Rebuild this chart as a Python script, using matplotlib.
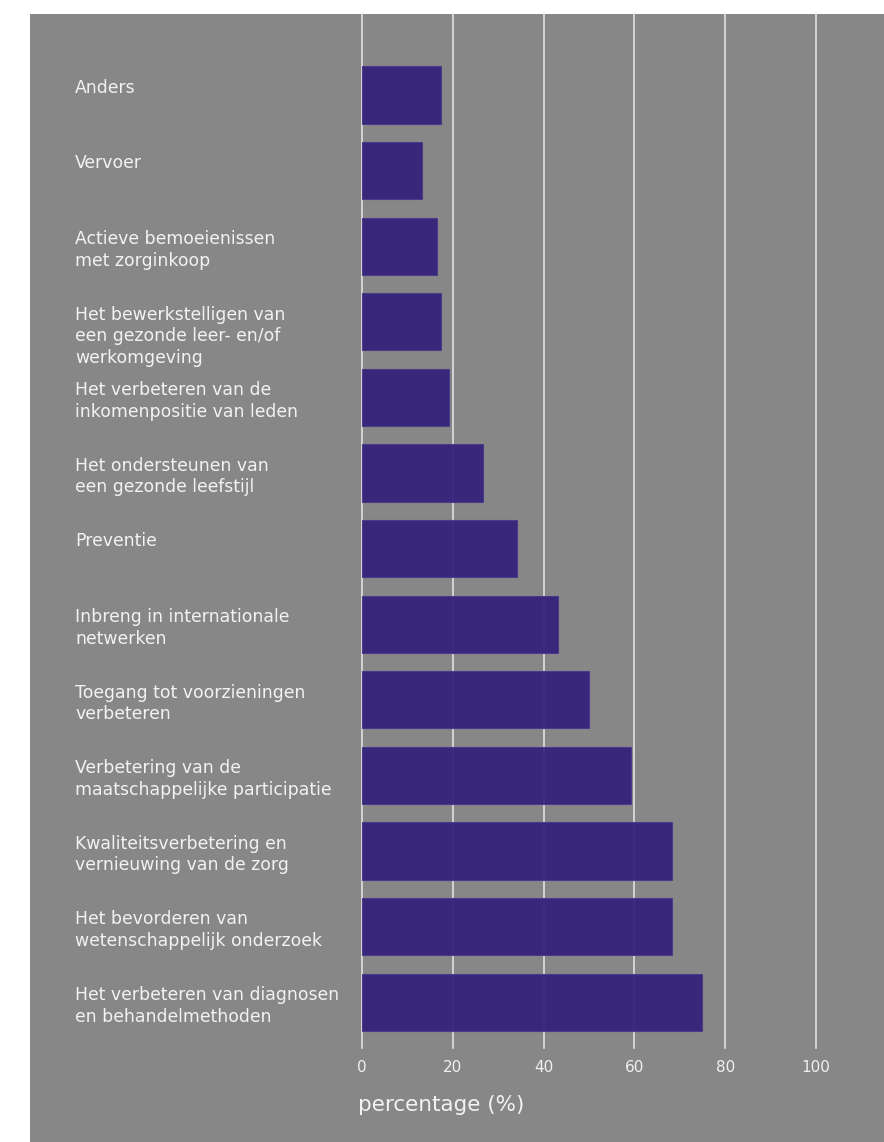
import matplotlib.pyplot as plt

plt.rcParams['font.family'] = ['DejaVu Sans']

categories = [
    "Anders",
    "Vervoer",
    "Actieve bemoeienissen\nmet zorginkoop",
    "Het bewerkstelligen van\neen gezonde leer- en/of\nwerkomgeving",
    "Het verbeteren van de\ninkomenpositie van leden",
    "Het ondersteunen van\neen gezonde leefstijl",
    "Preventie",
    "Inbreng in internationale\nnetwerken",
    "Toegang tot voorzieningen\nverbeteren",
    "Verbetering van de\nmaatschappelijke participatie",
    "Kwaliteitsverbetering en\nvernieuwing van de zorg",
    "Het bevorderen van\nwetenschappelijk onderzoek",
    "Het verbeteren van diagnosen\nen behandelmethoden",
]
values = [17.4, 13.2, 16.5, 17.4, 19.2, 26.7, 34.1, 43.2, 50.0, 59.3, 68.3, 68.3, 74.9]
xticks = [0, 20, 40, 60, 80, 100]

W, H = 884, 1142
fig = plt.figure(figsize=(W / 100, H / 100), dpi=100)
fig.patch.set_facecolor("white")

# grey panel behind everything
bg = fig.add_axes([30 / W, 0, 1 - 30 / W, 1 - 14 / H], zorder=-1)
bg.set_facecolor("#878787")
bg.set_xticks([])
bg.set_yticks([])
for s in bg.spines.values():
    s.set_visible(False)

ax = fig.add_axes([362 / W, 1 - 1048 / H, (816 - 362) / W, (1048 - 14) / H], zorder=1)
ax.set_facecolor("none")
for s in ax.spines.values():
    s.set_visible(False)

pos = list(range(len(categories)))
ax.barh(pos, values, height=0.754, color="#34217c", alpha=0.94,
        edgecolor="#4a3a8a", linewidth=0.8, zorder=2)

ax.set_xlim(0, 100)
ax.set_ylim((1048 - 95) / 75.6, (14 - 95) / 75.6)

for x in xticks:
    ax.axvline(x, color="#e0e0e0", linewidth=1.2, zorder=1, clip_on=False)

ax.set_xticks(xticks)
ax.tick_params(axis="x", length=0, pad=9, labelsize=11, labelcolor="#f0f0f0")
ax.set_yticks([])

for i, lab in enumerate(categories):
    ax.text(-287 / 4.54, i - 0.215, lab, ha="left", va="top", fontsize=12.4,
            color="#f2f2f2", linespacing=1.26, clip_on=False)

ax.text(-0.008, -0.055, "percentage (%)", transform=ax.transAxes, ha="left",
        va="center", fontsize=15.5, color="#f2f2f2")

fig.savefig("out.png", dpi=100)
